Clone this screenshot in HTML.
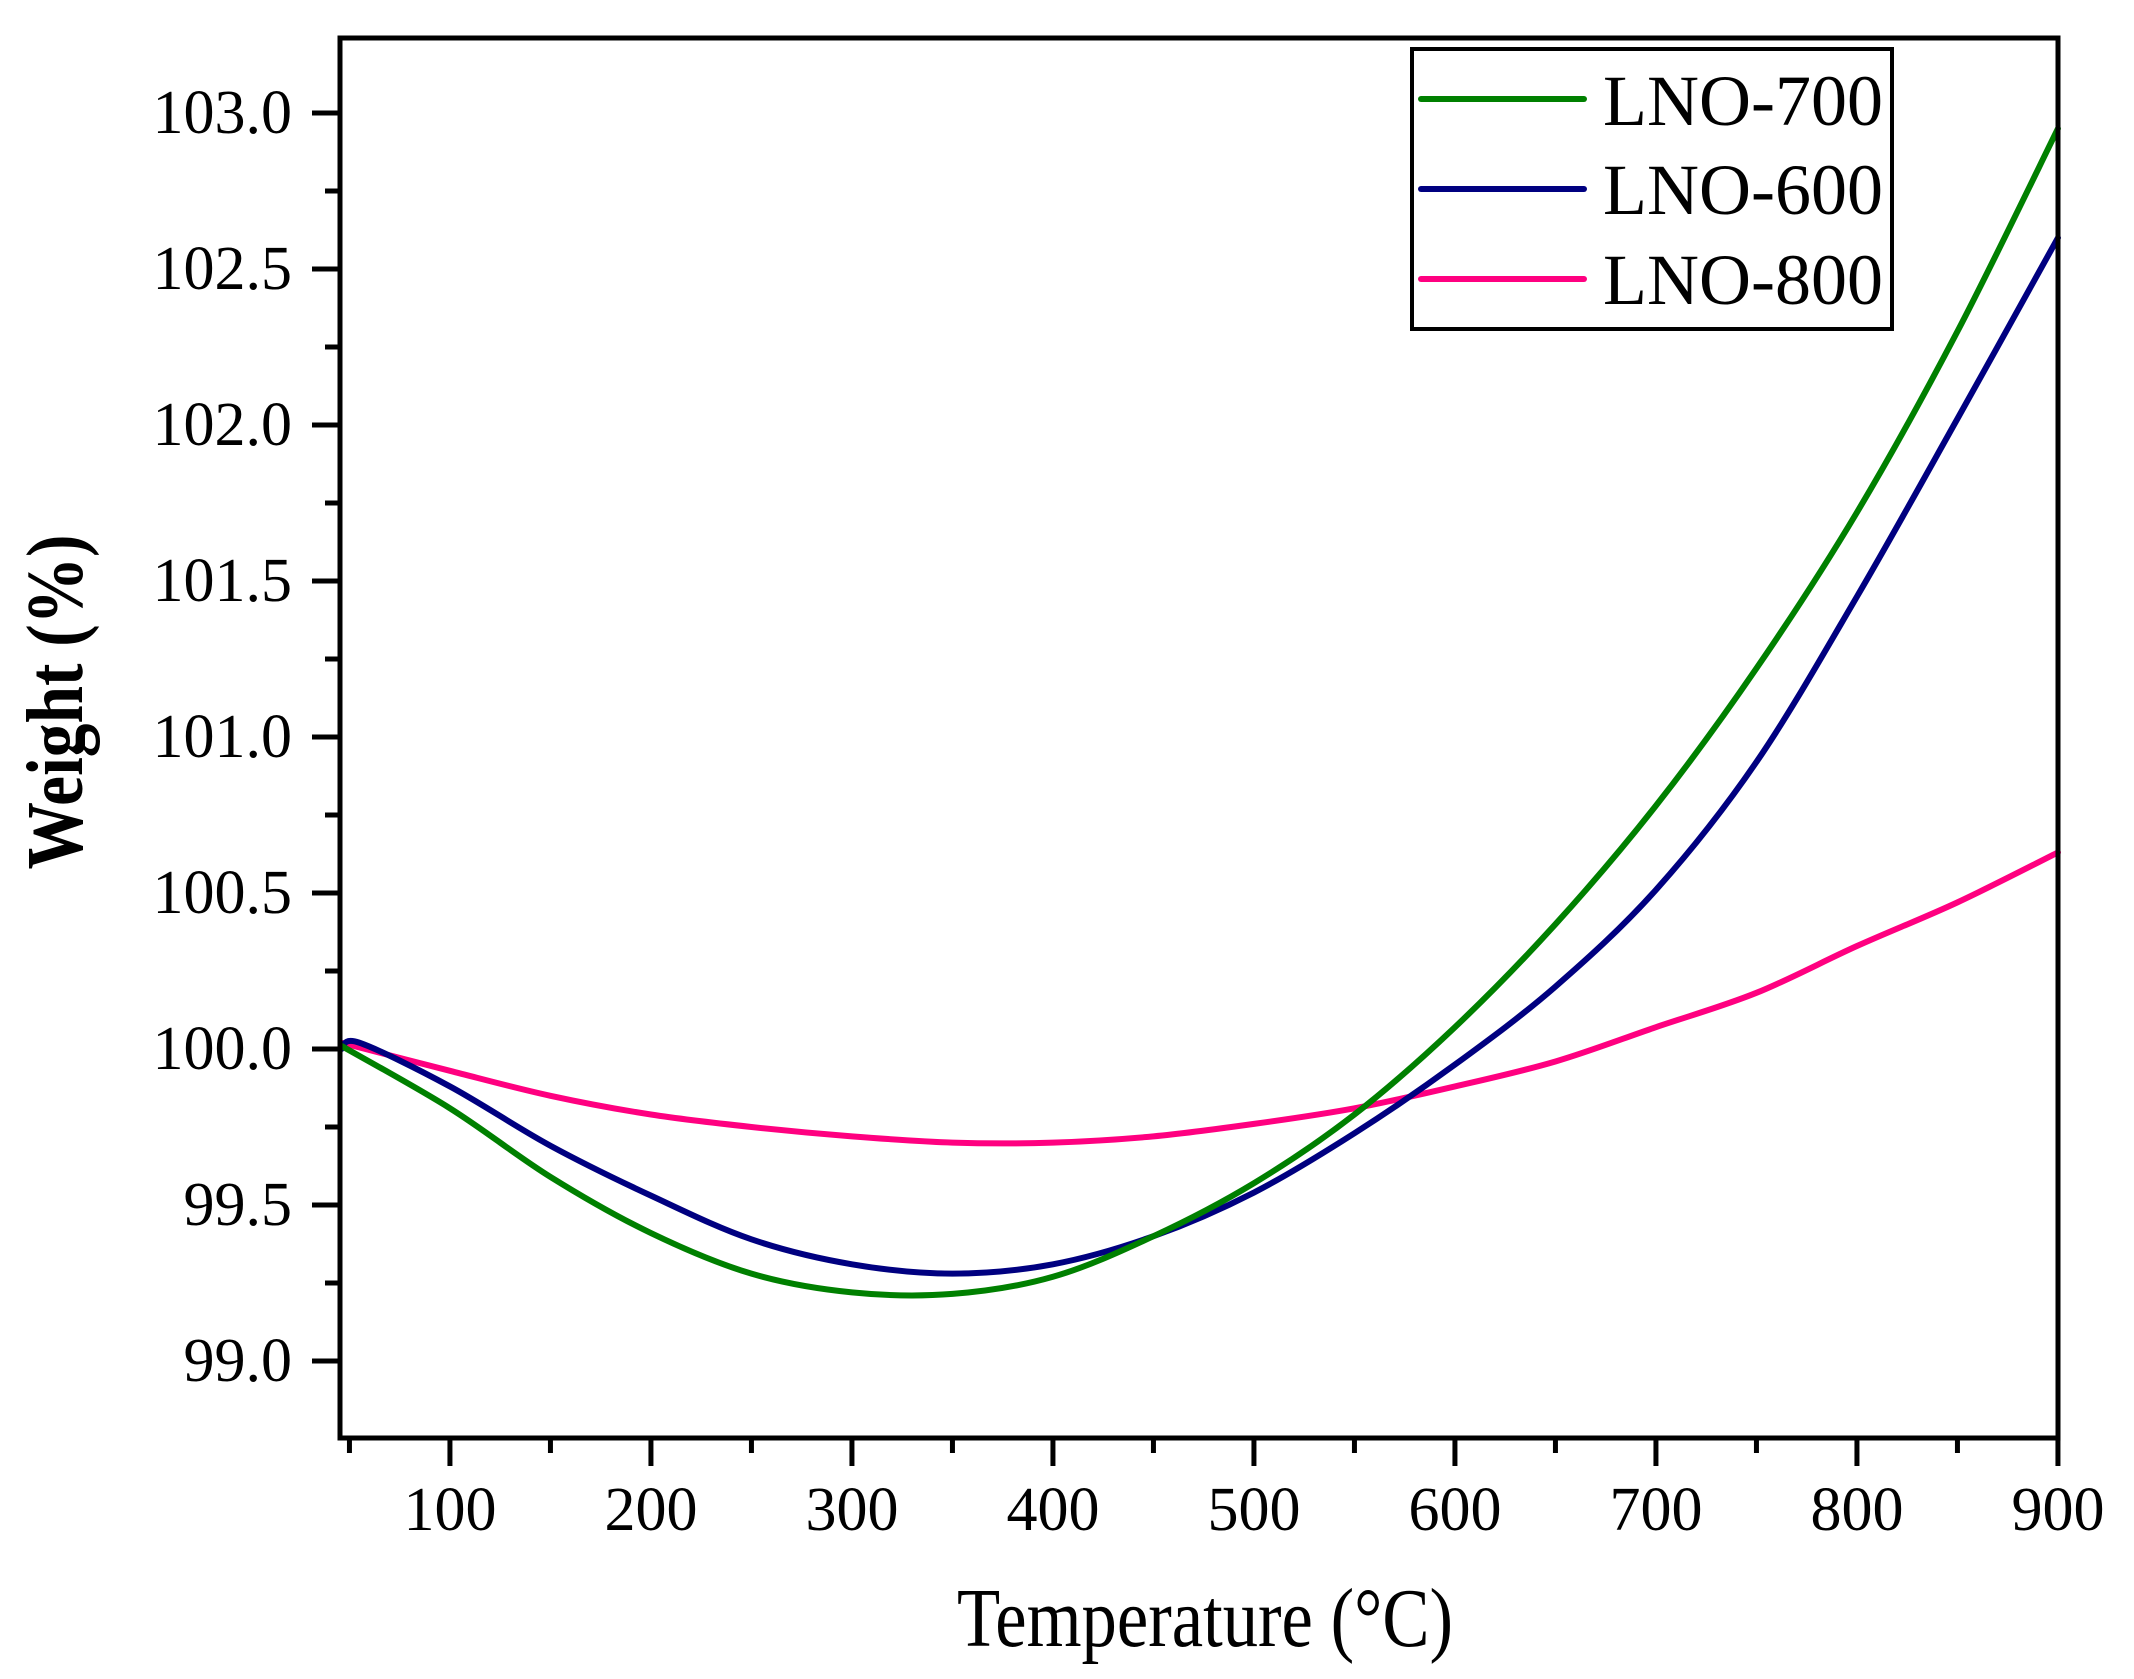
<!DOCTYPE html>
<html><head><meta charset="utf-8"><style>
html,body{margin:0;padding:0;background:#fff;}
svg{display:block;}
text{font-family:"Liberation Serif","Times New Roman",serif;fill:#000;}
</style></head><body>
<svg id="c" width="2134" height="1679" viewBox="0 0 2134 1679" xmlns="http://www.w3.org/2000/svg">
<g id="curves" fill="none" stroke-width="6" stroke-linejoin="round" stroke-linecap="round"></g>
<g id="axes" stroke="#000" stroke-width="5" fill="none">
<rect x="340" y="38" width="1718" height="1400"/>
</g>
<g id="ticks" stroke="#000" stroke-width="5"></g>
<g id="labels" font-size="62"></g>
<text x="1205" y="1646" font-size="84" text-anchor="middle" textLength="496" lengthAdjust="spacingAndGlyphs">Temperature (°C)</text>
<text transform="translate(82,702) rotate(-90)" font-size="80" font-weight="bold" text-anchor="middle" textLength="335" lengthAdjust="spacingAndGlyphs">Weight (%)</text>
<rect x="1412" y="49" width="480" height="280" fill="#fff" stroke="#000" stroke-width="4"/>
<line x1="1421" y1="99" x2="1584" y2="99" stroke="#008000" stroke-width="6" stroke-linecap="round"/>
<line x1="1421" y1="189" x2="1584" y2="189" stroke="#000080" stroke-width="6" stroke-linecap="round"/>
<line x1="1421" y1="279" x2="1584" y2="279" stroke="#FF0080" stroke-width="6" stroke-linecap="round"/>
<text x="1603" y="125" font-size="72">LNO-700</text>
<text x="1603" y="214" font-size="72">LNO-600</text>
<text x="1603" y="304" font-size="72">LNO-800</text>
</svg>
<script>
var NS="http://www.w3.org/2000/svg";
function px(x){return 340+(x-45.3)*2.01;}
function py(y){return 1049-(y-100)*312;}
function el(p,t,a,txt){var e=document.createElementNS(NS,t);for(var k in a)e.setAttribute(k,a[k]);if(txt!==undefined)e.textContent=txt;p.appendChild(e);return e;}
var tk=document.getElementById('ticks'),lb=document.getElementById('labels');
for(var x=50;x<=900;x+=50){var X=px(x);var maj=(x%100===0);el(tk,'line',{x1:X,y1:1438,x2:X,y2:1438+(maj?28:15)});
 if(maj&&x>=100)el(lb,'text',{x:X,y:1530,'text-anchor':'middle'},String(x));}
for(var v=98.75;v<=103.24;v+=0.25){var Y=py(v);var maj=Math.abs(v*2-Math.round(v*2))<1e-6;
 if(v<98.76)continue;
 el(tk,'line',{x1:340,y1:Y,x2:340-(maj?28:15),y2:Y});
 if(maj)el(lb,'text',{x:292,y:Y+20,'text-anchor':'end'},v.toFixed(1));}
var data={
"#FF0080":[[46,100.02],[100,99.93],[150,99.85],[200,99.79],[250,99.75],[300,99.72],[350,99.70],[400,99.70],[450,99.72],[500,99.76],[550,99.81],[600,99.88],[650,99.96],[700,100.07],[750,100.18],[800,100.33],[850,100.47],[900,100.63]],
"#000080":[[46,100.0],[55,100.02],[100,99.88],[150,99.69],[200,99.53],[250,99.39],[300,99.31],[350,99.28],[400,99.31],[450,99.40],[500,99.54],[550,99.73],[600,99.95],[650,100.2],[700,100.51],[750,100.92],[800,101.45],[850,102.02],[900,102.6]],
"#008000":[[46,100.01],[100,99.81],[150,99.59],[200,99.41],[250,99.28],[300,99.22],[350,99.215],[400,99.27],[450,99.40],[500,99.57],[550,99.79],[600,100.07],[650,100.4],[700,100.78],[750,101.22],[800,101.72],[850,102.3],[900,102.95]]};
var cg=document.getElementById('curves');
for(var col in data){var p=data[col].map(function(d){return [px(d[0]),py(d[1])];});
 var s="M"+p[0][0]+","+p[0][1];
 for(var i=0;i<p.length-1;i++){var p0=p[i-1]||p[i],p1=p[i],p2=p[i+1],p3=p[i+2]||p2;
  var c1=[p1[0]+(p2[0]-p0[0])/6,p1[1]+(p2[1]-p0[1])/6],c2=[p2[0]-(p3[0]-p1[0])/6,p2[1]-(p3[1]-p1[1])/6];
  s+=" C"+c1[0]+","+c1[1]+" "+c2[0]+","+c2[1]+" "+p2[0]+","+p2[1];}
 el(cg,'path',{d:s,stroke:col});}
</script>
</body></html>
